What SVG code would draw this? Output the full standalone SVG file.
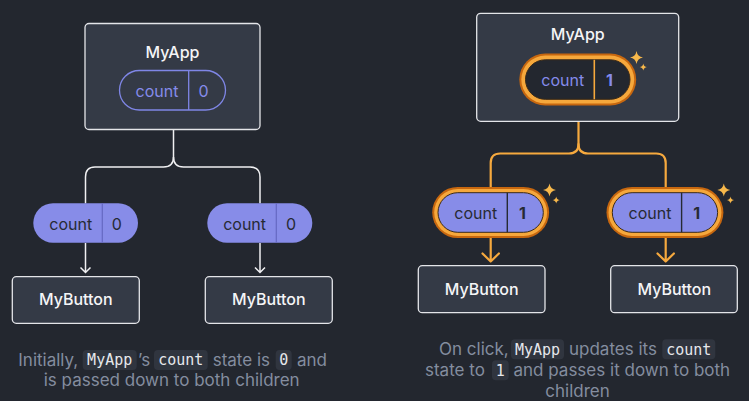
<svg xmlns="http://www.w3.org/2000/svg" xmlns:xlink="http://www.w3.org/1999/xlink" width="749" height="401" viewBox="0 0 749 401">
<style>
.box{fill:#343a46;stroke:#e4e5e9;stroke-width:1.3}
.title{font-family:Inter,"Noto Sans",sans-serif;font-size:16px;font-weight:500;fill:#f5f5f7;text-anchor:middle}
.pt{font-family:Inter,"Noto Sans",sans-serif;font-size:16px;text-anchor:middle}
.lav{fill:#858beb}
.dark{fill:#262a34}
.cap{font-family:Inter,"Noto Sans",sans-serif;font-size:17px;fill:#848d9f}
.code{font-family:"DejaVu Sans Mono","Liberation Mono",monospace;font-size:15px;fill:#e6e8ec;text-anchor:middle}
.cbg{fill:#30353f}
.wline{fill:none;stroke:#f0f0f2;stroke-width:1.5}
.oline{fill:none;stroke:#f6a93e;stroke-width:2.2;stroke-linecap:round;stroke-linejoin:round}
.ringo{fill:#c7670f}
.ringl{fill:#f6a83c}
.star{fill:#f7b84b}
</style>
<defs>
<path id="star" d="M0,-1 Q0.14,-0.14 1,0 Q0.14,0.14 0,1 Q-0.14,0.14 -1,0 Q-0.14,-0.14 0,-1 Z"/>
</defs>
<rect width="749" height="401" fill="#23272f"/>

<g id="connectors">
  <path class="wline" d="M173.5,130 V157 Q173.5,167 163.5,167 H95 Q85.5,167 85.5,177 V203.5"/>
  <path class="wline" d="M173.5,157 Q173.5,167 183.5,167 H250 Q260,167 260,177 V203.5"/>
  <path class="wline" d="M85.5,243 V272.5 M80.5,267.5 L85.5,272.5 L90.5,267.5"/>
  <path class="wline" d="M260,243 V272.5 M255,267.5 L260,272.5 L265,267.5"/>
  <path class="oline" d="M578.5,122 V144 Q578.5,153.5 569,153.5 H500.2 Q490.7,153.5 490.7,163 V187"/>
  <path class="oline" d="M578.5,144 Q578.5,153.5 588,153.5 H656.2 Q665.7,153.5 665.7,163 V187"/>
  <path class="oline" d="M490.7,238 V261.5 M482.5,253.5 L490.7,261.5 L498.9,253.5"/>
  <path class="oline" d="M665.7,238 V261.5 M657.5,253.5 L665.7,261.5 L673.9,253.5"/>
</g>

<g id="myapp-left">
  <rect class="box" x="85" y="23.5" width="175" height="106" rx="4"/>
  <text class="title" x="172.5" y="57.5">MyApp</text>
  <rect x="119.5" y="70.5" width="106" height="39.5" rx="19.75" fill="none" stroke="#7f86e6" stroke-width="1.3"/>
  <line x1="188.7" y1="70.5" x2="188.7" y2="110" stroke="#7f86e6" stroke-width="1.3"/>
  <text class="pt lav" x="157" y="96.5">count</text>
  <text class="pt lav" x="203.5" y="96.5">0</text>
</g>

<g id="state-left-1">
  <rect x="33.3" y="203.3" width="104.7" height="39.4" rx="19.7" fill="#878ce8"/>
  <line x1="102.3" y1="203.3" x2="102.3" y2="242.7" stroke="#6569c2" stroke-width="1.2"/>
  <text class="pt dark" x="70.7" y="229.5">count</text>
  <text class="pt dark" x="116.8" y="229.5">0</text>
</g>
<g id="state-left-2">
  <rect x="207.3" y="203.3" width="105" height="39.4" rx="19.7" fill="#878ce8"/>
  <line x1="276.3" y1="203.3" x2="276.3" y2="242.7" stroke="#6569c2" stroke-width="1.2"/>
  <text class="pt dark" x="244.6" y="229.5">count</text>
  <text class="pt dark" x="291" y="229.5">0</text>
</g>

<g id="mybutton-left-1">
  <rect class="box" x="12.3" y="276.7" width="127" height="46.6" rx="4"/>
  <text class="title" x="75.8" y="305">MyButton</text>
</g>
<g id="mybutton-left-2">
  <rect class="box" x="205.3" y="276.7" width="127" height="46.6" rx="4"/>
  <text class="title" x="268.8" y="305">MyButton</text>
</g>

<g id="caption-left">
  <rect class="cbg" x="82.7" y="350" width="54" height="20" rx="4"/>
  <rect class="cbg" x="154" y="350" width="53.7" height="20" rx="4"/>
  <rect class="cbg" x="275.7" y="350" width="16" height="20" rx="4"/>
  <text class="cap" x="18.3" y="365.5">Initially,</text>
  <text class="code" x="109.7" y="365">MyApp</text>
  <text class="cap" x="138" y="365.5">’s</text>
  <text class="code" x="180.8" y="365">count</text>
  <text class="cap" x="212.7" y="365.5">state is</text>
  <text class="code" x="283.7" y="365">0</text>
  <text class="cap" x="297" y="365.5">and</text>
  <text class="cap" x="171.7" y="385.7" text-anchor="middle">is passed down to both children</text>
</g>

<g id="myapp-right">
  <rect class="box" x="476.7" y="13.3" width="202" height="108" rx="4"/>
  <text class="title" x="577.7" y="40">MyApp</text>
  <rect class="ringo" x="519.3" y="53.6" width="116.9" height="51.9" rx="25.95"/>
  <rect class="ringl" x="521.3" y="55.6" width="112.9" height="47.9" rx="23.95"/>
  <rect x="525.5" y="59.8" width="104.5" height="39.5" rx="19.75" fill="#23272f" stroke="#3a2a18" stroke-width="1"/>
  <line x1="594.3" y1="59.8" x2="594.3" y2="99.3" stroke="#f6a83c" stroke-width="1.6"/>
  <text class="pt lav" x="562.7" y="86">count</text>
  <text class="pt lav" x="609.5" y="86" font-weight="bold">1</text>
  <use xlink:href="#star" class="star" transform="translate(636.5,57.5) scale(6.5)"/>
  <use xlink:href="#star" class="star" transform="translate(643.3,67) scale(3.6)"/>
</g>

<g id="state-right-1">
  <rect class="ringo" x="432.2" y="186.9" width="116.9" height="51.2" rx="25.6"/>
  <rect class="ringl" x="434.2" y="188.9" width="112.9" height="47.2" rx="23.6"/>
  <rect x="438" y="192.7" width="105.3" height="39.6" rx="19.8" fill="#878ce8" stroke="#3a2a18" stroke-width="1"/>
  <line x1="507.3" y1="192.7" x2="507.3" y2="232.3" stroke="#262a34" stroke-width="1.4"/>
  <text class="pt dark" x="475.7" y="218.5">count</text>
  <text class="pt dark" x="522.5" y="218.5" font-weight="bold">1</text>
  <use xlink:href="#star" class="star" transform="translate(549.5,190) scale(6.5)"/>
  <use xlink:href="#star" class="star" transform="translate(556.2,200) scale(3.6)"/>
</g>
<g id="state-right-2">
  <rect class="ringo" x="606.5" y="186.9" width="116.9" height="51.2" rx="25.6"/>
  <rect class="ringl" x="608.5" y="188.9" width="112.9" height="47.2" rx="23.6"/>
  <rect x="612.3" y="192.7" width="105.3" height="39.6" rx="19.8" fill="#878ce8" stroke="#3a2a18" stroke-width="1"/>
  <line x1="681.6" y1="192.7" x2="681.6" y2="232.3" stroke="#262a34" stroke-width="1.4"/>
  <text class="pt dark" x="650" y="218.5">count</text>
  <text class="pt dark" x="696.8" y="218.5" font-weight="bold">1</text>
  <use xlink:href="#star" class="star" transform="translate(723.8,190) scale(6.5)"/>
  <use xlink:href="#star" class="star" transform="translate(730.5,200) scale(3.6)"/>
</g>

<g id="mybutton-right-1">
  <rect class="box" x="418.3" y="265.7" width="126.7" height="47" rx="4"/>
  <text class="title" x="481.7" y="295">MyButton</text>
</g>
<g id="mybutton-right-2">
  <rect class="box" x="610.7" y="265.7" width="126.6" height="47" rx="4"/>
  <text class="title" x="674.3" y="295">MyButton</text>
</g>

<g id="caption-right">
  <rect class="cbg" x="511" y="339.3" width="53" height="20" rx="4"/>
  <rect class="cbg" x="662.3" y="339.3" width="53" height="20" rx="4"/>
  <rect class="cbg" x="492" y="360.3" width="16.7" height="20" rx="4"/>
  <text class="cap" x="439" y="355">On click,</text>
  <text class="code" x="537.5" y="354.5">MyApp</text>
  <text class="cap" x="569" y="355">updates its</text>
  <text class="code" x="688.8" y="354.5">count</text>
  <text class="cap" x="425" y="376">state to</text>
  <text class="code" x="500.3" y="375.5">1</text>
  <text class="cap" x="513.5" y="376">and passes it down to both</text>
  <text class="cap" x="577.5" y="396.5" text-anchor="middle">children</text>
</g>
</svg>
